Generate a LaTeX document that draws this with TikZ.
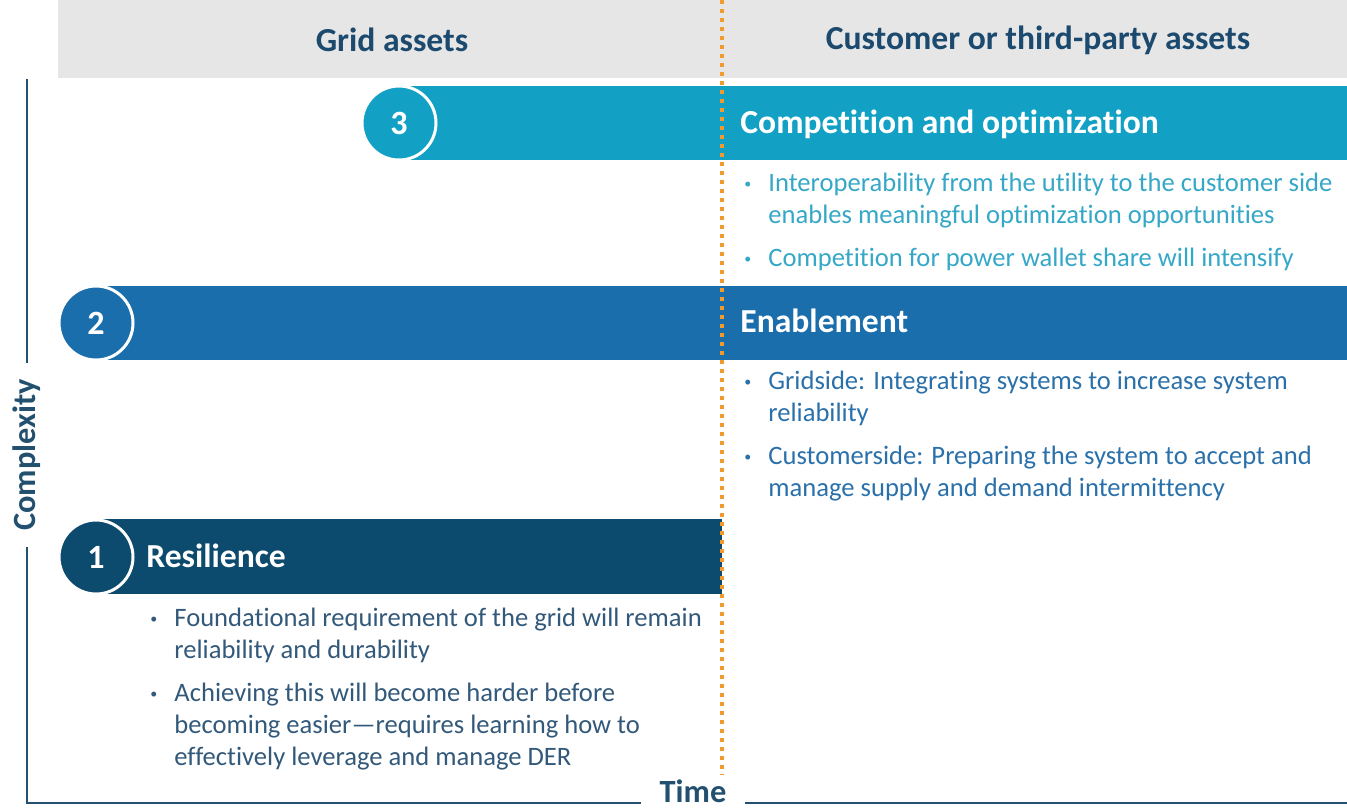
\documentclass[tikz,border=0pt]{standalone}
\usepackage{fontspec}
\setmainfont{Carlito}[Ligatures={NoCommon}]
\usepackage{tikz}

\definecolor{headgray}{HTML}{E6E6E6}
\definecolor{headblue}{HTML}{1B4A6E}
\definecolor{barthree}{HTML}{12A1C4}
\definecolor{bartwo}{HTML}{1A6EAC}
\definecolor{barone}{HTML}{0C4A6E}
\definecolor{txtthree}{HTML}{35A7C7}
\definecolor{txttwo}{HTML}{2A70AA}
\definecolor{txtone}{HTML}{33597A}
\definecolor{axisblue}{HTML}{23506F}
\definecolor{dotorange}{HTML}{F29A2E}

\newcommand{\itm}{\raisebox{0.2ex}{\scriptsize\textbullet}}

\begin{document}
\begin{tikzpicture}[x=0.5pt,y=-0.5pt,
  numcirc/.style={circle, fill=#1, draw=white, line width=1.5pt, minimum size=37pt, inner sep=0pt, text=white, font=\bfseries\fontsize{17}{19}\selectfont},
  bartitle/.style={anchor=base west, text=white, inner sep=0pt, font=\bfseries\fontsize{16.8}{19}\selectfont},
  headtext/.style={text=headblue, font=\bfseries\fontsize{16.8}{19}\selectfont},
  bullets/.style={anchor=base west, inner sep=0pt, text=#1, font=\fontsize{13.3}{16}\selectfont},
  axis/.style={draw=axisblue, line width=1pt},
  axislabel/.style={text=axisblue, font=\bfseries\fontsize{16.2}{19}\selectfont}]
\useasboundingbox (0,0) rectangle (1347,811);

\fill[headgray] (58,0) rectangle (1347,78);
\node[headtext] (grid) at (392,40) {Grid assets};
\node[headtext] (cust) at (1038,40) {Customer or third-party assets};

\fill[barthree] (399,86) rectangle (1347,160);
\fill[bartwo] (96,286) rectangle (1347,360);
\fill[barone] (96,519) rectangle (722,594);

\node[numcirc=barthree] (c3) at (399,123) {3};
\node[numcirc=bartwo] (c2) at (96,323) {2};
\node[numcirc=barone] (c1) at (96,557) {1};

\node[bartitle] (t3) at (740,133) {Competition and optimization};
\node[bartitle] (t2) at (740,332) {Enablement};
\node[bartitle] (t1) at (146,567) {Resilience};

\node[bullets=txtthree] (b3) at (744,191) {\begin{tabular}[t]{@{}p{12pt}@{}l@{}}
\itm & Interoperability from the utility to the customer side\\
 & enables meaningful optimization opportunities\\[5.5pt]
\itm & Competition for power wallet share will intensify
\end{tabular}};
\node[bullets=txttwo] (b2) at (744,389) {\begin{tabular}[t]{@{}p{12pt}@{}l@{}}
\itm & Gridside: Integrating systems to increase system\\
 & reliability\\[5.5pt]
\itm & Customerside: Preparing the system to accept and\\
 & manage supply and demand intermittency
\end{tabular}};
\node[bullets=txtone] (b1) at (150,626) {\begin{tabular}[t]{@{}p{12pt}@{}l@{}}
\itm & Foundational requirement of the grid will remain\\
 & reliability and durability\\[5.5pt]
\itm & Achieving this will become harder before\\
 & becoming easier---requires learning how to\\
 & effectively leverage and manage DER
\end{tabular}};

\coordinate (dtop) at (722,0);
\coordinate (dbot) at (722,775);
\draw[dotorange, line width=2pt, dash pattern=on 2pt off 2.5pt] (dtop) -- (dbot);

\coordinate (ytop) at (27,79);
\coordinate (orig) at (27,803);
\coordinate (xend) at (1347,803);
\node[axislabel, rotate=90, inner xsep=8pt] (cplx) at (27,455) {Complexity};
\node[axislabel, inner xsep=9pt] (time) at (693,791) {Time};
\path[axis] (ytop) -- (cplx.east);
\path[axis] (cplx.west) -- (orig) -- (orig -| time.west);
\path[axis] (time.east |- orig) -- (xend);
\end{tikzpicture}
\end{document}
